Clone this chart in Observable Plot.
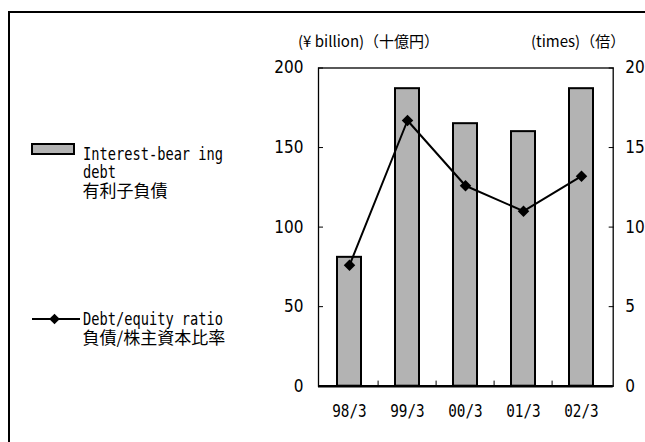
<!DOCTYPE html>
<html><head><meta charset="utf-8">
<script src="https://cdn.jsdelivr.net/npm/d3@7"></script>
<script src="https://cdn.jsdelivr.net/npm/@observablehq/plot@0.6"></script>
<style>
body{margin:0;overflow:hidden;background:#fff;}
#wrap{position:relative;width:645px;height:442px;overflow:hidden;background:#fff;}
#border{position:absolute;left:8px;top:11px;width:700px;height:500px;border:2px solid #000;box-sizing:border-box;}
#chart{position:absolute;left:0;top:0;}
.unit{position:absolute;font-family:"Noto Sans CJK JP",sans-serif;font-size:15px;line-height:1;white-space:nowrap;color:#000;}
.leg{position:absolute;left:82.5px;white-space:nowrap;color:#000;}
.leg div{height:18px;line-height:18px;}
.mono{font-family:"DejaVu Sans Mono",monospace;font-size:17px;}
.mono span{display:inline-block;transform:scaleX(0.805);transform-origin:0 50%;}
.cjk{font-family:"Noto Sans CJK JP",sans-serif;font-size:17px;}
.sw{position:absolute;}
</style></head><body>
<div id="wrap">
  <div id="border"></div>
  <div id="chart"></div>
  <div class="unit" id="uLeft" style="left:298px;top:33px;"></div>
  <div class="unit" id="uRight" style="left:531px;top:33px;"></div>
  <svg class="sw" style="left:30px;top:142px" width="50" height="16"><rect x="2" y="2" width="42" height="10" fill="#b3b3b3" stroke="#000" stroke-width="2"/></svg>
  <div class="leg" id="leg1" style="top:144.6px;"></div>
  <svg class="sw" style="left:30px;top:309.7px" width="54" height="18"><line x1="2" y1="9" x2="50" y2="9" stroke="#000" stroke-width="1.8"/><path d="M24.5,3.7L29.8,9L24.5,14.3L19.2,9Z" fill="#000"/></svg>
  <div class="leg" id="leg2" style="top:310px;"></div>
</div>
<script>
const periods = ["98/3", "99/3", "00/3", "01/3", "02/3"];
const debt = [81, 187, 165, 160, 187];
const ratio = [7.6, 16.7, 12.6, 11.0, 13.2];
const leftTicks = [0, 50, 100, 150, 200];
const rightTicks = [0, 5, 10, 15, 20];
const leftUnit = "(¥ billion)（十億円）";
const rightUnit = "(times)（倍）";
const legendDebt = ["Interest-bear ing", "debt", "有利子負債"];
const legendRatio = ["Debt/equity ratio", "負債/株主資本比率"];

const factor = leftTicks[leftTicks.length - 1] / rightTicks[rightTicks.length - 1];
const data = periods.map((p, i) => ({period: p, debt: debt[i], ratio: ratio[i]}));

document.getElementById("uLeft").textContent = leftUnit;
document.getElementById("uRight").textContent = rightUnit;
document.getElementById("leg1").innerHTML =
  `<div class="mono"><span>${legendDebt[0]}</span></div><div class="mono"><span>${legendDebt[1]}</span></div><div class="cjk">${legendDebt[2]}</div>`;
document.getElementById("leg2").innerHTML =
  `<div class="mono"><span>${legendRatio[0]}</span></div><div class="cjk">${legendRatio[1]}</div>`;

const numFont = "'Liberation Sans Narrow','DejaVu Sans Condensed','Liberation Sans',sans-serif";

const chart = Plot.plot({
  width: 645,
  height: 442,
  marginTop: 67.5,
  marginBottom: 56.3,
  marginLeft: 318,
  marginRight: 32.3,
  style: {fontFamily: numFont, fontSize: "17px", background: "transparent", color: "#000"},
  x: {type: "band", domain: periods, paddingInner: 0.59, paddingOuter: 0.295, label: null},
  y: {domain: [leftTicks[0], leftTicks[leftTicks.length - 1]], label: null},
  marks: [
    Plot.barY(data, {x: "period", y: "debt", fill: "#b3b3b3", stroke: "#000", strokeWidth: 2}),
    Plot.frame({stroke: "#000", strokeWidth: 1.3}),
    Plot.ruleY([0], {stroke: "#000", strokeWidth: 2.5}),
    Plot.ruleX(periods.slice(1), {x: d => d, dx: -29.4, y1: 0, y2: 3.2, stroke: "#000", strokeWidth: 1}),
    Plot.line(data, {x: "period", y: d => d.ratio * factor, stroke: "#000", strokeWidth: 2}),
    Plot.dot(data, {x: "period", y: d => d.ratio * factor, symbol: "diamond2", r: 5.2, fill: "#000", stroke: "none"}),
    Plot.axisY(leftTicks, {anchor: "left", tickSize: -5, tickPadding: 20, label: null, fontFamily: numFont, fontSize: 17}),
    Plot.axisY(rightTicks.map(t => t * factor), {anchor: "right", tickSize: -5, tickPadding: 17, tickFormat: d => d / factor, label: null, fontFamily: numFont, fontSize: 17}),
    Plot.axisX({tickSize: 0, tickPadding: 18.5, label: null, fontFamily: "'DejaVu Sans Mono',monospace", fontSize: 17})
  ]
});
chart.querySelectorAll('[aria-label="x-axis tick label"] text').forEach(t => {
  t.setAttribute("textLength", 34.5);
  t.setAttribute("lengthAdjust", "spacingAndGlyphs");
});
document.getElementById("chart").appendChild(chart);
</script>
</body></html>
